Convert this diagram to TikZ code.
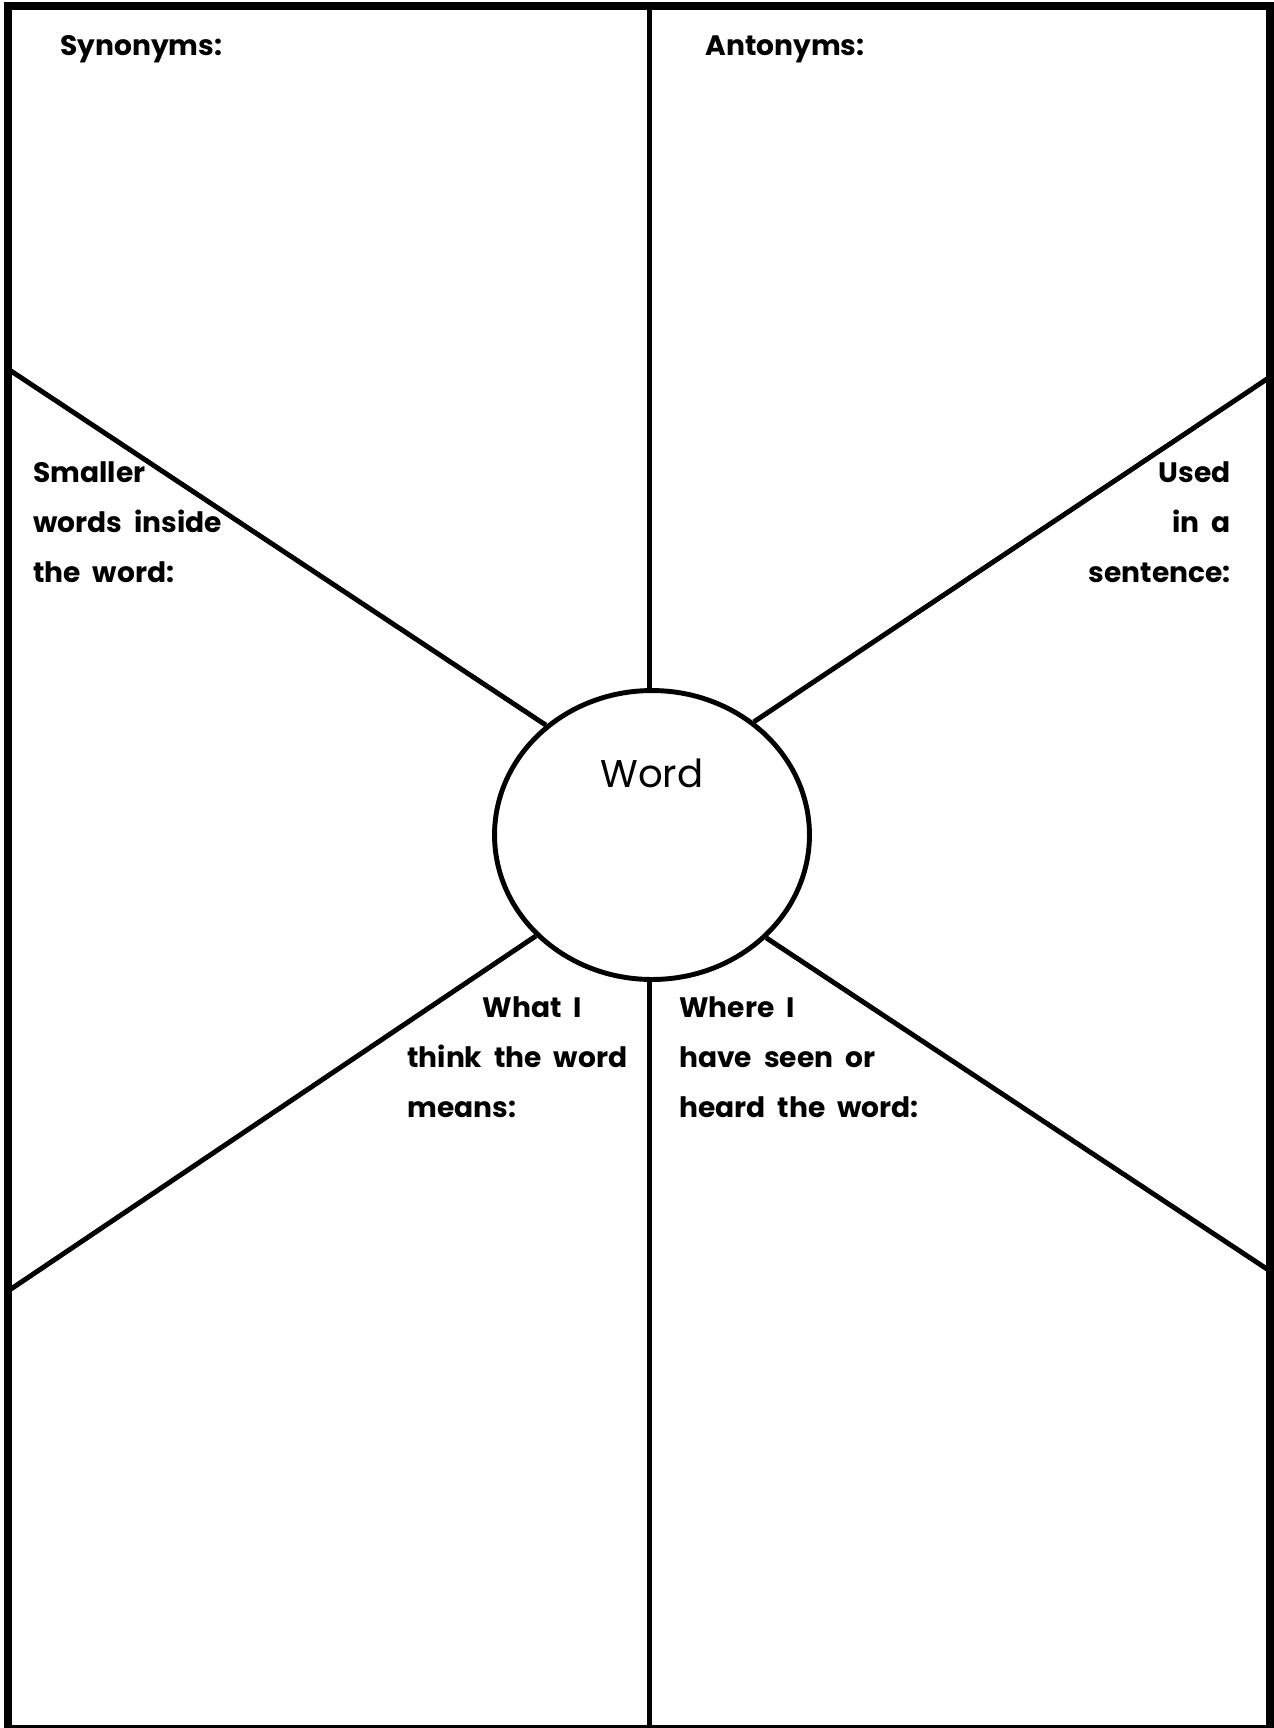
\documentclass[tikz,border=0pt]{standalone}
\usepackage{fontspec}
\setmainfont{Poppins}[WordSpace=2]
\usepackage{tikz}
\usetikzlibrary{shapes.geometric, positioning}
\definecolor{inkblack}{RGB}{0,0,0}
\tikzset{
  frame/.style={draw=inkblack, line width=4.5pt},
  spoke/.style={draw=inkblack, line width=2.8pt},
  wordoval/.style={ellipse, draw=inkblack, fill=white, line width=2.8pt,
    minimum width=6.3cm, minimum height=5.78cm, inner sep=0pt},
  lbl/.style={inner sep=0pt, font=\fontsize{16}{28.4}\selectfont\bfseries},
  wordlbl/.style={inner sep=0pt, font=\fontsize{22}{28}\selectfont}
}
\begin{document}
\begin{tikzpicture}[x=0.02cm, y=-0.02cm]
  \useasboundingbox (0,0) rectangle (1274,1728);

  % --- OUTER FRAME ---
  \draw[frame] (8,6) rectangle (1270,1729);

  % --- CENTRE WORD ---
  \node[wordoval] (word) at (652,835) {};
  \node[wordlbl, anchor=base] (wordtxt) at (652,787) {Word};

  % --- SPOKES ---
  \coordinate (mtop) at (649.5,6);
  \coordinate (mbot) at (649.5,1729);
  \coordinate (ul) at (8,369);
  \coordinate (ur) at (1270,377);
  \coordinate (ll) at (8,1291);
  \coordinate (lr) at (1270,1271);
  \draw[spoke] (mtop) -- (mtop |- word.north);
  \draw[spoke] (mbot) -- (mbot |- word.south);
  \draw[spoke] (ul) -- (word.134);
  \draw[spoke] (ur) -- (word.48);
  \draw[spoke] (ll) -- (word.221);
  \draw[spoke] (lr) -- (word.318);

  % --- SECTION LABELS (base = last line) ---
  \node[lbl, anchor=base west] (syn) at (60,55) {Synonyms:};
  \node[lbl, anchor=base west] (ant) at (705,55) {Antonyms:};
  \node[lbl, anchor=base west, align=left] (small) at (33,582) {Smaller\\words inside\\the word:};
  \node[lbl, anchor=base east, align=right] (used) at (1231,582) {Used\\in a\\sentence:};
  \node[lbl, anchor=base west, align=left] (think) at (407,1117) {\hspace*{43pt}What I\\think the word\\means:};
  \node[lbl, anchor=base west, align=left] (seen) at (679,1117) {Where I\\have seen or\\heard the word:};
\end{tikzpicture}
\end{document}
